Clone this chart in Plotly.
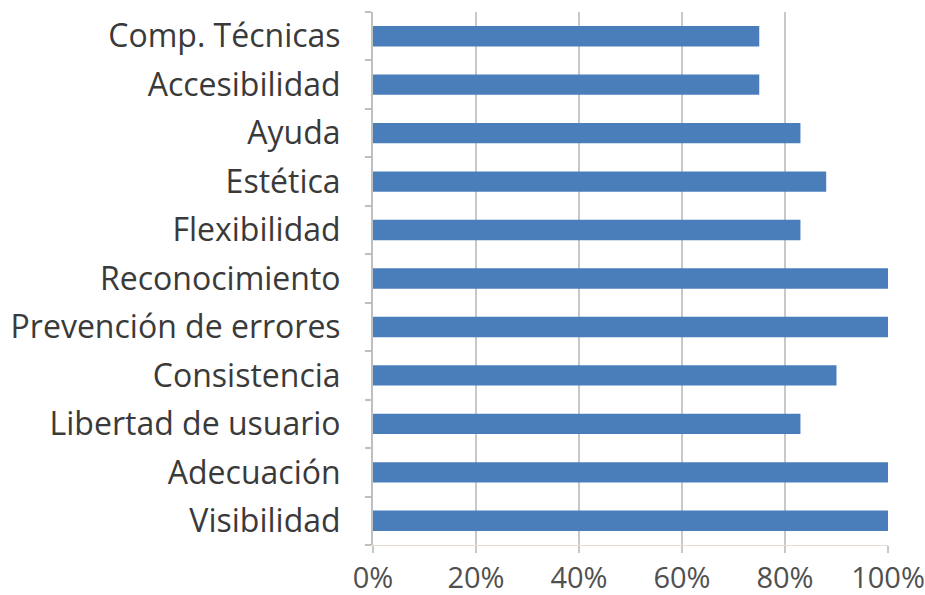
import plotly.graph_objects as go

categories = ["Visibilidad", "Adecuación", "Libertad de usuario", "Consistencia",
              "Prevención de errores", "Reconocimiento", "Flexibilidad", "Estética",
              "Ayuda", "Accesibilidad", "Comp. Técnicas"]
values = [100, 100, 83, 90, 100, 100, 83, 88, 83, 75, 75]
tick_vals = [0, 20, 40, 60, 80, 100]
tick_text = ["0%", "20%", "40%", "60%", "80%", "100%"]

fig = go.Figure(go.Bar(
    x=values, y=categories, orientation="h",
    marker=dict(color="#4a7ebb", line=dict(width=0)),
    width=0.42,
))

fig.update_layout(
    width=925, height=595,
    margin=dict(l=373, r=37, t=12, b=50, autoexpand=False),
    paper_bgcolor="white", plot_bgcolor="white",
    showlegend=False,
    font=dict(family="Open Sans", size=32, color="#3a3a3a"),
    bargap=0.58,
)
fig.update_xaxes(
    range=[0, 100], tickvals=tick_vals, ticktext=tick_text,
    showgrid=True, gridcolor="#c8c8c8", gridwidth=2,
    showline=True, linecolor="#e6ddd0", linewidth=1,
    ticks="outside", ticklen=7, tickcolor="#c8c8c8", tickwidth=2,
    tickfont=dict(size=29, color="#505050"),
    zeroline=False, automargin=False, ticklabelstandoff=0,
)
fig.update_yaxes(
    showline=True, linecolor="#bfbfbf", linewidth=2,
    ticks="outside", tickson="boundaries", ticklen=6, tickcolor="#bfbfbf", tickwidth=2,
    showgrid=False, ticklabelstandoff=24, automargin=False,
    tickfont=dict(size=32, color="#3a3a3a"),
)

fig.write_html("out.html", config={"displayModeBar": False},
               post_script="document.body.style.margin='0px';")
